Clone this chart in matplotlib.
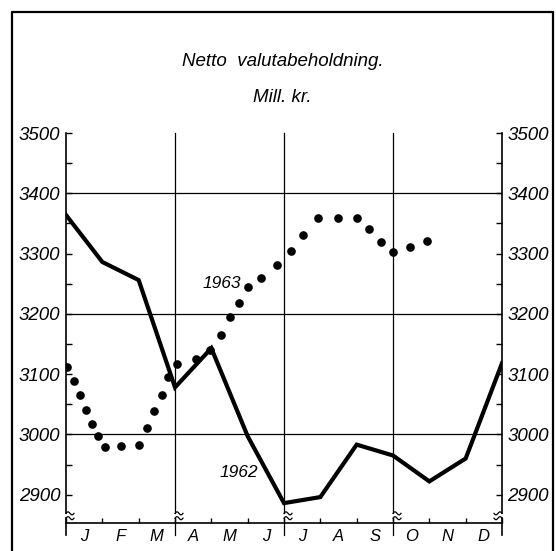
import matplotlib.pyplot as plt
import numpy as np
from matplotlib.lines import Line2D

plt.rcParams['font.family'] = ['Liberation Sans', 'DejaVu Sans']

# months of the year (labels between the month boundaries)
months = ['J', 'F', 'M', 'A', 'M', 'J', 'J', 'A', 'S', 'O', 'N', 'D']

# 1962: end-of-month values (x in months from start of year)
x_1962 = [0, 1, 2, 3, 4, 5, 6, 7, 8, 9, 10, 11, 12]
val_1962 = [3364, 3286, 3256, 3078, 3143, 2997, 2886, 2896, 2983, 2965, 2922, 2960, 3118]

# 1963: dotted curve
x_1963 = [0.04, 0.22, 0.385, 0.54, 0.72, 0.88, 1.07, 1.51, 2.00, 2.22, 2.43, 2.63, 2.82,
          3.05, 3.58, 3.96, 4.27, 4.52, 4.76, 5.01, 5.37, 5.81, 6.19, 6.53, 6.94, 7.50,
          8.00, 8.35, 8.67, 9.01, 9.47, 9.93]
val_1963 = [3112, 3088, 3065, 3041, 3018, 2997, 2979, 2981, 2983, 3010, 3038, 3066, 3095,
            3116, 3125, 3140, 3165, 3194, 3218, 3244, 3259, 3281, 3304, 3331, 3359, 3359,
            3359, 3340, 3320, 3303, 3311, 3321]

y_ticks = [2900, 3000, 3100, 3200, 3300, 3400, 3500]
grid_levels = [3000, 3200, 3400]
quarters = [0, 3, 6, 9, 12]

W, H = 556, 551
fig = plt.figure(figsize=(W / 100, H / 100), dpi=100)
ax = fig.add_axes([66 / W, 1 - 523 / H, 436 / W, 390 / H])
ymin, ymax = 2853, 3500
ax.set_xlim(0, 12)
ax.set_ylim(ymin, ymax)

for s in ['top', 'left', 'right']:
    ax.spines[s].set_visible(False)
ax.spines['bottom'].set_linewidth(1.2)

# y axis ticks on both sides, pointing inward
ax.set_yticks(y_ticks)
ax.set_yticks(np.arange(2900, 3500, 50), minor=True)
ax.tick_params(axis='y', which='both', direction='in', length=4.5, width=1.0,
               left=True, right=True, labelleft=True, labelright=True, pad=4)
for lab in ax.get_yticklabels():
    lab.set_fontsize(13.5)
    lab.set_fontstyle('italic')

# x axis: month boundary ticks inward, labels as text
ax.set_xticks([])
ax.set_xticks(np.arange(0, 13, 1), minor=True)
ax.tick_params(axis='x', which='minor', direction='in', length=3.5, width=1.0)
for i, m in enumerate(months):
    ax.text(i + 0.5, 2830, m, ha='center', va='center', fontsize=12,
            fontstyle='italic', clip_on=False)

# grid lines
for g in grid_levels:
    ax.axhline(g, color='black', lw=0.9, zorder=1)

# quarter lines and side axes with break marks
brk_hi, brk_lo = 2869, 2861
for q in quarters:
    lw = 1.2 if q in (0, 12) else 0.9
    ax.plot([q, q], [brk_hi, ymax], color='black', lw=lw, zorder=1, clip_on=False)
    ax.plot([q, q], [2833, brk_lo], color='black', lw=lw, zorder=1, clip_on=False)
    t = np.linspace(0, 1, 20)
    side = -1 if q == 12 else 1
    for yb in (brk_hi, brk_lo):
        xs = q + side * 0.22 * t
        ys = yb + 2.5 * np.sin(2 * np.pi * t)
        ax.plot(xs, ys, color='black', lw=0.9, clip_on=False)

# data
ax.plot(x_1962, val_1962, color='black', lw=3.0, solid_joinstyle='miter', zorder=3)
ax.plot(x_1963, val_1963, linestyle='none', marker='o', markersize=5.2,
        color='black', zorder=4)

ax.text(4.29, 3251, '1963', ha='center', va='center', fontsize=12.5, fontstyle='italic')
ax.text(4.76, 2936, '1962', ha='center', va='center', fontsize=12.5, fontstyle='italic')

# title
fig.text(283 / W, 1 - 62 / H, 'Netto  valutabeholdning.', ha='center', va='center',
         fontsize=13.5, fontstyle='italic')
fig.text(282 / W, 1 - 97 / H, 'Mill. kr.', ha='center', va='center',
         fontsize=13.5, fontstyle='italic')

# outer frame (left, top, right)
fig.add_artist(Line2D([12 / W, 12 / W, 553 / W, 553 / W], [0, 1 - 12 / H, 1 - 12 / H, 0],
                      color='black', lw=1.6, transform=fig.transFigure))

fig.savefig('out.png', dpi=100)
